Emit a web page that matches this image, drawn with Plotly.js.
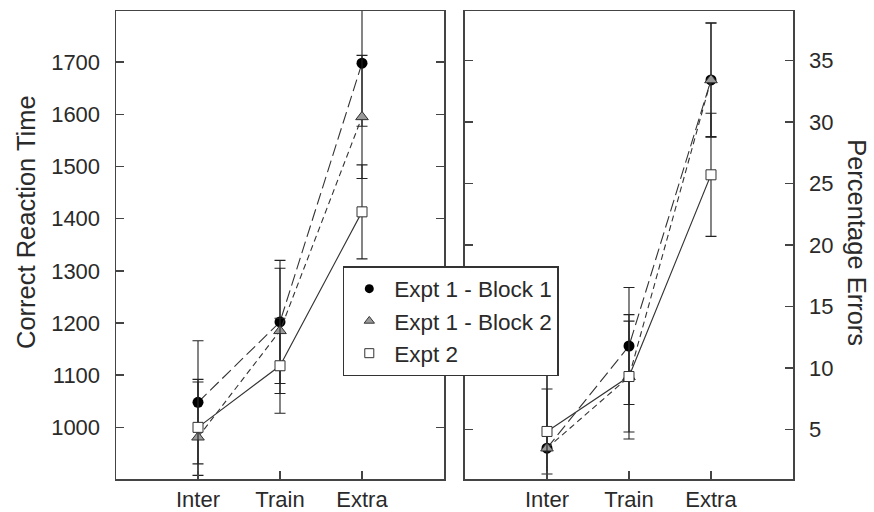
<!DOCTYPE html>
<html>
<head>
<meta charset="utf-8">
<script src="https://cdn.plot.ly/plotly-3.0.1.min.js"></script>
<style>html,body{margin:0;padding:0;background:#fff;}#chart{width:874px;height:512px;}</style>
</head>
<body>
<div id="chart"></div>
<script>
const categories = ['Inter', 'Train', 'Extra'];
const seriesNames = ['Expt 1 - Block 1', 'Expt 1 - Block 2', 'Expt 2'];

// Correct reaction time (left panel)
const rtBlock1 = [1048, 1202, 1698];
const rtBlock1Err = [118, 118, 121];
const rtBlock2 = [981, 1185, 1595];
const rtBlock2Err = [106, 120, 118];
const rtExpt2 = [1000, 1118, 1413];
const rtExpt2Err = [92, 91, 90];

// Percentage errors (right panel)
const peBlock1 = [3.5, 11.8, 33.4];
const peBlock1Err = [6.45, 4.75, 4.65];
const peBlock2 = [3.5, 9.3, 33.4];
const peBlock2Err = [7.0, 5.05, 4.6];
const peExpt2 = [4.86, 9.32, 25.7];
const peExpt2Err = [3.45, 4.5, 5.0];

const rtTicks = [1000, 1100, 1200, 1300, 1400, 1500, 1600, 1700];
const peTicks = [5, 10, 15, 20, 25, 30, 35];

const FONT = 'Liberation Sans, Arial, Helvetica, sans-serif';
const INK = '#2a2a2a';

const styles = [
  {symbol: 'circle', color: '#000', line: {color: '#000', width: 0}, size: 11, lsize: 9, dash: '12px,5px'},
  {symbol: 'triangle-up', color: '#9a9a9a', line: {color: '#333', width: 1}, size: 11, lsize: 9, dash: '6px,4px'},
  {symbol: 'square', color: '#fff', line: {color: '#333', width: 1}, size: 10, lsize: 9, dash: 'solid'}
];

const rtData = [[rtBlock1, rtBlock1Err], [rtBlock2, rtBlock2Err], [rtExpt2, rtExpt2Err]];
const peData = [[peBlock1, peBlock1Err], [peBlock2, peBlock2Err], [peExpt2, peExpt2Err]];

const traces = [];
// legend marker traces (drawn underneath the main markers)
styles.forEach((s, i) => {
  traces.push({
    x: categories, y: rtData[i][0], xaxis: 'x', yaxis: 'y',
    mode: 'markers', name: seriesNames[i], showlegend: true,
    marker: {symbol: s.symbol, color: s.color, size: s.lsize, line: s.line},
    hoverinfo: 'skip'
  });
});
function addPanel(data, xa, ya) {
  styles.forEach((s, i) => {
    traces.push({
      x: categories, y: data[i][0], xaxis: xa, yaxis: ya,
      mode: 'lines+markers', name: seriesNames[i], showlegend: false,
      line: {color: '#333', width: 1.1, dash: s.dash},
      marker: {symbol: s.symbol, color: s.color, size: s.size, line: s.line},
      error_y: {type: 'data', array: data[i][1], visible: true, color: '#222', thickness: 1.1, width: 5.5},
      cliponaxis: true
    });
  });
}
addPanel(rtData, 'x', 'y');
addPanel(peData, 'x2', 'y2');

const axisCommon = {
  showline: true, linecolor: '#444', linewidth: 1.5, showgrid: false, zeroline: false,
  ticks: 'inside', ticklen: 8, tickwidth: 1.5, tickcolor: '#444',
  tickfont: {family: FONT, size: 22, color: INK}
};

const layout = {
  width: 874, height: 512,
  margin: {l: 116, r: 81, t: 11, b: 33},
  paper_bgcolor: '#fff', plot_bgcolor: '#fff',
  font: {family: FONT, color: INK},
  showlegend: true,
  legend: {
    x: 0.335, y: 0.455, xanchor: 'left', yanchor: 'top',
    bgcolor: '#fff', bordercolor: '#333', borderwidth: 1.5,
    font: {family: FONT, size: 22.5, color: INK},
    itemwidth: 40, tracegroupgap: 0
  },
  xaxis: Object.assign({}, axisCommon, {
    domain: [0, 0.4845], anchor: 'y', type: 'category', range: [-1, 3],
    mirror: true, ticklabelstandoff: 0
  }),
  xaxis2: Object.assign({}, axisCommon, {
    domain: [0.5155, 1], anchor: 'y2', type: 'category', range: [-1, 3],
    mirror: true, ticklabelstandoff: 0
  }),
  yaxis: Object.assign({}, axisCommon, {
    anchor: 'x', range: [901, 1798], tickvals: rtTicks, mirror: 'ticks',
    ticklabelstandoff: 10
  }),
  yaxis2: Object.assign({}, axisCommon, {
    anchor: 'x2', side: 'right', range: [1, 39], tickvals: peTicks, mirror: 'ticks',
    ticklabelstandoff: 10
  }),
  annotations: [
    {text: 'Correct Reaction Time', xref: 'paper', yref: 'paper', x: -0.133, y: 0.549,
     xanchor: 'center', yanchor: 'middle', textangle: -90, showarrow: false,
     font: {family: FONT, size: 25.5, color: INK}},
    {text: 'Percentage Errors', xref: 'paper', yref: 'paper', x: 1.0945, y: 0.504,
     xanchor: 'center', yanchor: 'middle', textangle: 90, showarrow: false,
     font: {family: FONT, size: 25.5, color: INK}}
  ]
};

Plotly.newPlot('chart', traces, layout, {staticPlot: true, displayModeBar: false});
</script>
</body>
</html>
